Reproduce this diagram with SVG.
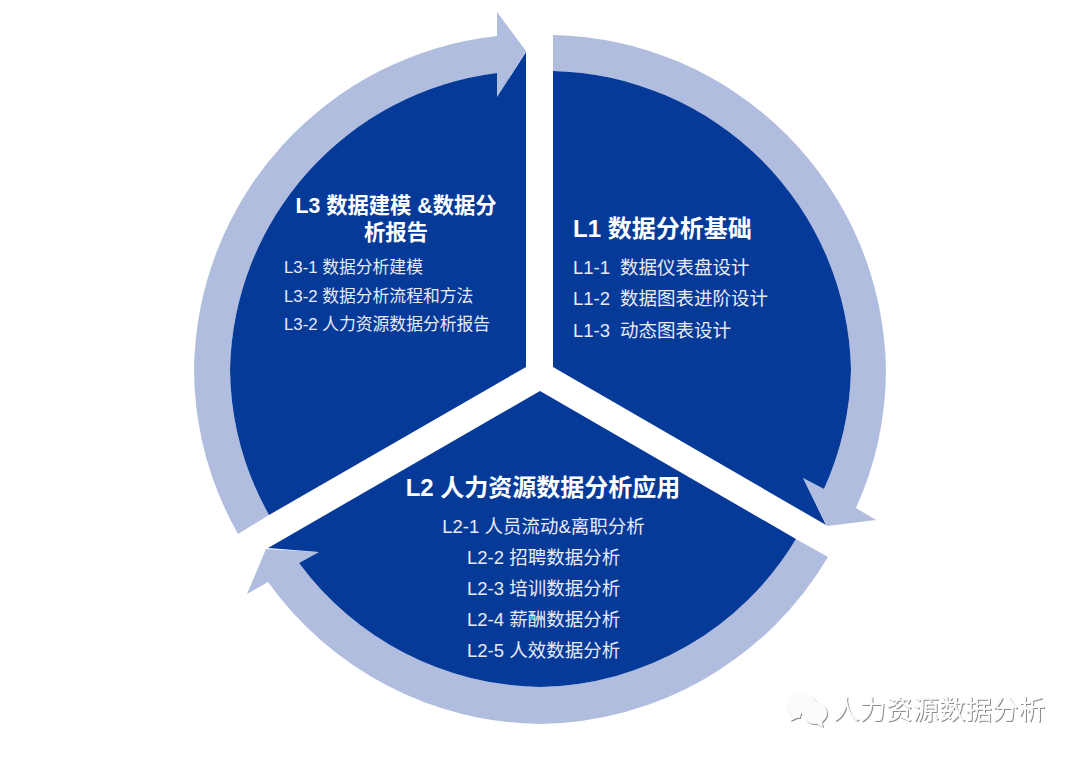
<svg xmlns="http://www.w3.org/2000/svg" width="1080" height="758" viewBox="0 0 1080 758">
<style>
text{font-family:"Liberation Sans","Noto Sans CJK SC",sans-serif;fill:#fff}
.h{font-size:24px;font-weight:700}
.h3{font-size:21.3px;font-weight:700}
.t{font-size:18.5px;fill:#e8ebf5}
.t3{font-size:16.8px;fill:#e8ebf5}
.m{text-anchor:middle}
.dark{fill:#063a99}
.light{fill:#b0bddf}
.wm{font-size:26.5px;fill:#fbfbfb}
</style>
<defs><filter id="emb" x="-10%" y="-20%" width="120%" height="150%"><feDropShadow dx="1" dy="1" stdDeviation="0.6" flood-color="#8a8a8a"/></filter></defs>
<rect width="1080" height="758" fill="#fff"/>
<g id="connectors">
<path class="light" d="M553 35A340 340 0 0 1 886 370A340 340 0 0 1 856 508L876 520L827 526L803 478L824 489A305 305 0 0 0 851 370A305 305 0 0 0 553 71Z"/>
<path class="light" d="M828 557A340 340 0 0 1 540 724A340 340 0 0 1 268 582L247 594L266 549L319 552L299 563A305 305 0 0 0 540 687A305 305 0 0 0 796 539Z"/>
<path class="light" d="M238 534A340 340 0 0 1 194 370A340 340 0 0 1 497 36L497 12L526 51L497 97L497 73A305 305 0 0 0 230 370A305 305 0 0 0 269 515Z"/>
</g>
<g id="node-l1">
<path class="dark" d="M553 367V71A305 305 0 0 1 851 370A305 305 0 0 1 824 489L803 478L826 525Z"/>
<text class="h" x="573" y="237">L1 数据分析基础</text>
<text class="t" x="573" y="274">L1-1<tspan x="620">数据仪表盘设计</tspan></text>
<text class="t" x="573" y="305">L1-2<tspan x="620">数据图表进阶设计</tspan></text>
<text class="t" x="573" y="337">L1-3<tspan x="620">动态图表设计</tspan></text>
</g>
<g id="node-l2">
<path class="dark" d="M540 391L796 539A305 305 0 0 1 540 687A305 305 0 0 1 299 563L319 552L268 548Z"/>
<text class="h m" x="543" y="496">L2 人力资源数据分析应用</text>
<text class="t m" x="543.500" y="533">L2-1 人员流动&amp;离职分析</text>
<text class="t" x="467" y="564">L2-2 招聘数据分析</text>
<text class="t" x="467" y="595">L2-3 培训数据分析</text>
<text class="t" x="467" y="626">L2-4 薪酬数据分析</text>
<text class="t" x="467" y="657">L2-5 人效数据分析</text>
</g>
<g id="node-l3">
<path class="dark" d="M526 367L269 515A305 305 0 0 1 230 370A305 305 0 0 1 497 73V97L526 52Z"/>
<text class="h3 m" x="396" y="213">L3 数据建模 &amp;数据分</text>
<text class="h3 m" x="396" y="240">析报告</text>
<text class="t3" x="284" y="273">L3-1 数据分析建模</text>
<text class="t3" x="284" y="302">L3-2 数据分析流程和方法</text>
<text class="t3" x="284" y="330">L3-2 人力资源数据分析报告</text>
</g>
<g id="watermark" filter="url(#emb)">
<path d="M800 692c-8 0-14 6-14 13 0 5 3 9 6 11l-2 5 7-3h3c1-8 8-13 18-12-2-8-9-14-18-14Z" fill="#fbfbfb"/>
<path d="M815 702c-7 0-13 5-13 11s6 11 13 11h2l6 3-1-5c3-2 5-5 5-9 0-6-5-11-12-11Z" fill="#fbfbfb"/>
<text class="wm" x="833" y="719">人力资源数据分析</text>
</g>
</svg>
